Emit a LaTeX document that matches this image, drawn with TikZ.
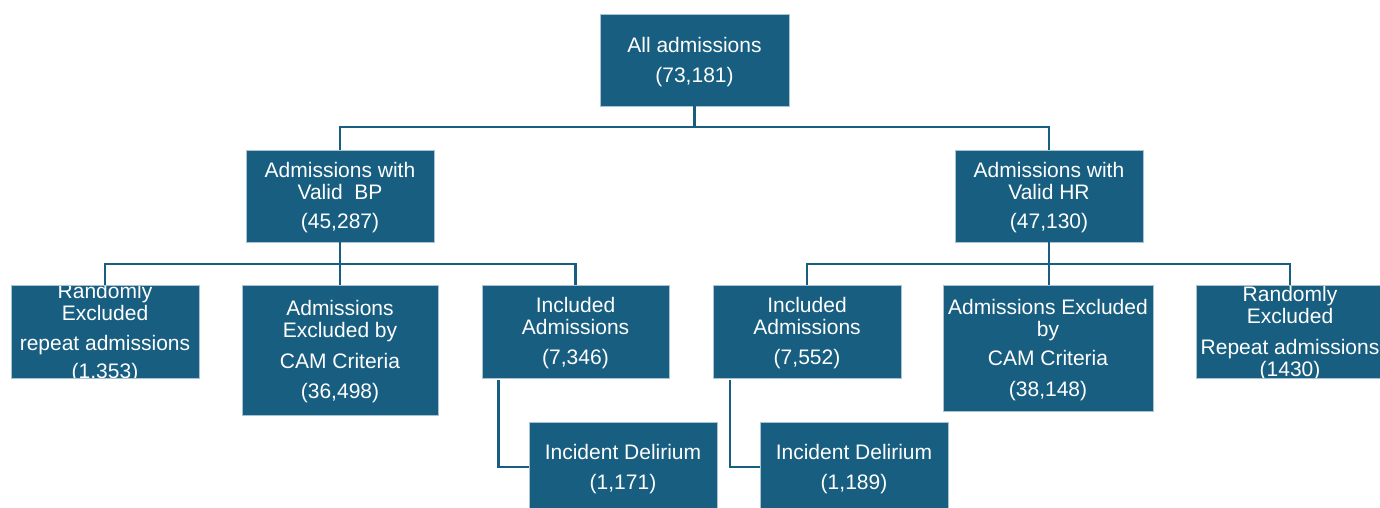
\documentclass[tikz,border=0pt]{standalone}
\usepackage{fontspec}
\setmainfont{Liberation Sans}
\usepackage{tikz}
\usetikzlibrary{positioning}
\definecolor{boxblue}{RGB}{23,94,128}
\definecolor{boxedge}{RGB}{170,195,210}
\tikzset{x=1pt, y=-1pt,
  txt/.style={text=white, align=center, inner sep=0pt, font=\fontsize{21}{22}\selectfont},
  cbox/.style={fill=boxblue, draw=boxedge, line width=0.6pt, inner sep=0pt,
    path picture={\node[txt, yshift=-2pt] at (path picture bounding box.center) {#1};}},
  link/.style={draw=boxblue, line width=2.6pt}}

\begin{document}
\begin{tikzpicture}
\useasboundingbox (0,0) rectangle (1380,508);

\node[cbox={All admissions\\[8pt](73,181)}, minimum width=189pt, minimum height=92pt] (all) at (694.5,60) {};
\node[cbox={Admissions with\\Valid~ BP\\[7pt](45,287)}, minimum width=188pt, minimum height=92pt] (bp) at (340,196) {};
\node[cbox={Admissions with\\Valid HR\\[7pt](47,130)}, minimum width=188pt, minimum height=92pt] (hr) at (1049,196) {};

\node[cbox={Randomly\\Excluded\\[8pt]repeat admissions\\[6pt](1,353)}, minimum width=188pt, minimum height=93pt] (randL) at (105,331.5) {};
\node[cbox={Admissions\\Excluded by\\[9pt]CAM Criteria\\[8pt](36,498)}, minimum width=196pt, minimum height=130pt] (exL) at (340,350) {};
\node[cbox={Included\\Admissions\\[8pt](7,346)}, minimum width=187pt, minimum height=93pt] (inclL) at (575.5,331.5) {};
\node[cbox={Included\\Admissions\\[8pt](7,552)}, minimum width=188pt, minimum height=93pt] (inclR) at (807,331.5) {};
\node[cbox={Admissions Excluded\\by\\[7pt]CAM Criteria\\[9pt](38,148)}, minimum width=210pt, minimum height=126pt] (exR) at (1048,348) {};
\node[cbox={Randomly\\Excluded\\[9pt]Repeat admissions\\(1430)}, minimum width=188pt, minimum height=93pt] (randR) at (1290,331.5) {};

\node[cbox={Incident Delirium\\[8pt](1,171)}, minimum width=188pt, minimum height=90pt] (incL) at (623,467) {};
\node[cbox={Incident Delirium\\[8pt](1,189)}, minimum width=188pt, minimum height=90pt] (incR) at (854,467) {};

\coordinate (busTop) at (694.5,127);
\coordinate (busL) at (340,264);
\coordinate (busR) at (1049,264);

\draw[link] (all.south) -- (busTop);
\draw[link] (bp.north) |- (busTop) -| (hr.north);
\draw[link] (bp.south) -- (exL.north);
\draw[link] (randL.north) |- (busL) -| (inclL.north);
\draw[link] (hr.south) -- (busR);
\draw[link] (busR) -- (busR |- exR.north);
\draw[link] (inclR.north) |- (busR) -| (randR.north);
\draw[link] ([xshift=-77pt, yshift=-2pt]inclL.south) |- (incL.west);
\draw[link] ([xshift=-77pt, yshift=-2pt]inclR.south) |- (incR.west);

\end{tikzpicture}
\end{document}
